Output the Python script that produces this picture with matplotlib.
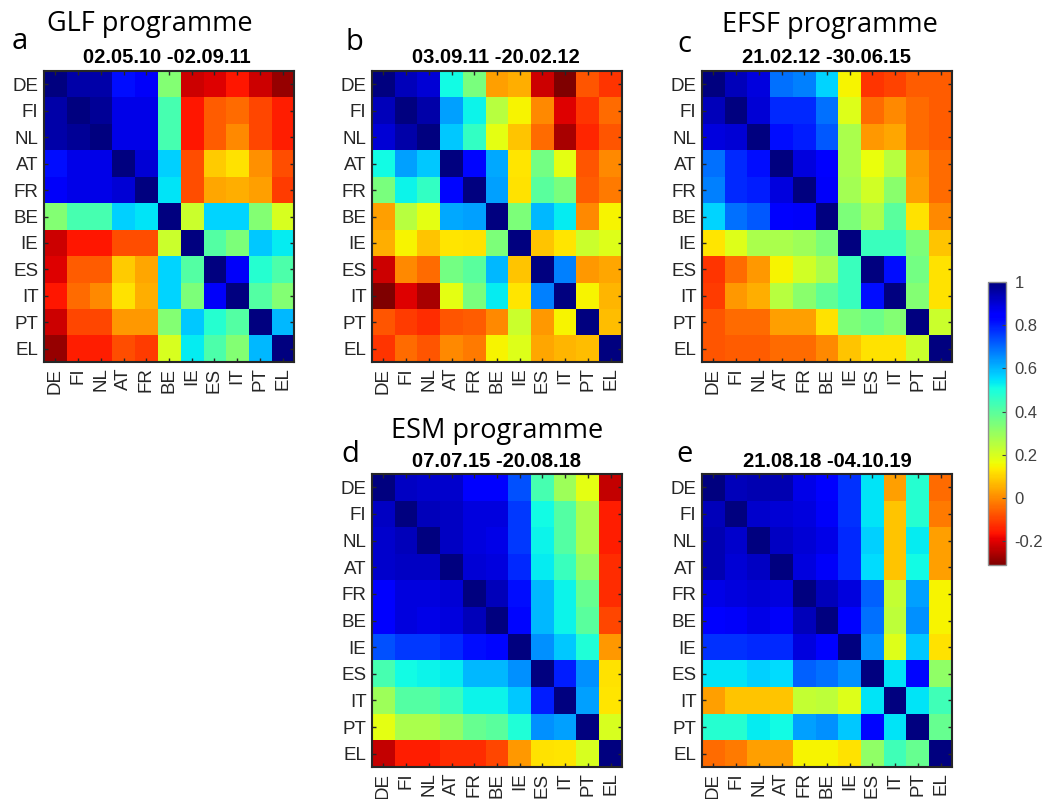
import numpy as np
import matplotlib.pyplot as plt

countries = ['DE', 'FI', 'NL', 'AT', 'FR', 'BE', 'IE', 'ES', 'IT', 'PT', 'EL']

# GLF programme, 02.05.10 - 02.09.11
corr_a = [
    [1.00, 0.95, 0.95, 0.82, 0.86, 0.33, -0.22, -0.20, -0.16, -0.22, -0.28],
    [0.95, 1.00, 0.97, 0.88, 0.88, 0.43, -0.16, -0.06, -0.04, -0.09, -0.15],
    [0.95, 0.97, 1.00, 0.88, 0.88, 0.43, -0.16, -0.06, 0.00, -0.09, -0.15],
    [0.82, 0.88, 0.88, 1.00, 0.90, 0.57, -0.08, 0.09, 0.12, 0.01, -0.08],
    [0.86, 0.88, 0.88, 0.90, 1.00, 0.54, -0.08, 0.04, 0.05, 0.03, -0.11],
    [0.33, 0.43, 0.43, 0.57, 0.54, 1.00, 0.22, 0.56, 0.56, 0.33, 0.20],
    [-0.22, -0.16, -0.16, -0.08, -0.08, 0.22, 1.00, 0.41, 0.34, 0.58, 0.53],
    [-0.20, -0.06, -0.06, 0.09, 0.04, 0.56, 0.41, 1.00, 0.86, 0.48, 0.42],
    [-0.16, -0.04, 0.00, 0.12, 0.05, 0.56, 0.34, 0.86, 1.00, 0.41, 0.33],
    [-0.22, -0.09, -0.09, 0.02, 0.02, 0.33, 0.58, 0.48, 0.41, 1.00, 0.60],
    [-0.28, -0.15, -0.15, -0.08, -0.11, 0.20, 0.53, 0.42, 0.33, 0.60, 1.00],
]

# 03.09.11 - 20.02.12
corr_b = [
    [1.00, 0.93, 0.90, 0.51, 0.35, 0.03, 0.05, -0.22, -0.31, -0.07, -0.12],
    [0.93, 1.00, 0.95, 0.63, 0.52, 0.25, 0.15, 0.00, -0.20, -0.12, -0.04],
    [0.90, 0.95, 1.00, 0.58, 0.46, 0.18, 0.08, -0.04, -0.26, -0.14, -0.07],
    [0.51, 0.63, 0.58, 1.00, 0.83, 0.62, 0.13, 0.36, 0.18, -0.07, 0.00],
    [0.35, 0.52, 0.46, 0.83, 1.00, 0.63, 0.12, 0.40, 0.35, -0.06, -0.02],
    [0.03, 0.25, 0.18, 0.62, 0.63, 1.00, 0.34, 0.60, 0.53, 0.00, 0.15],
    [0.05, 0.15, 0.08, 0.13, 0.12, 0.34, 1.00, 0.08, 0.13, 0.22, 0.19],
    [-0.22, 0.00, -0.04, 0.36, 0.40, 0.60, 0.08, 1.00, 0.67, 0.02, 0.04],
    [-0.31, -0.20, -0.26, 0.18, 0.35, 0.53, 0.13, 0.67, 1.00, 0.15, 0.06],
    [-0.07, -0.11, -0.13, -0.07, -0.06, 0.00, 0.22, 0.02, 0.15, 1.00, 0.07],
    [-0.12, -0.04, -0.07, 0.00, -0.02, 0.15, 0.19, 0.04, 0.06, 0.07, 1.00],
]

# EFSF programme, 21.02.12 - 30.06.15
corr_c = [
    [1.00, 0.93, 0.89, 0.69, 0.67, 0.56, 0.15, -0.12, -0.10, -0.06, -0.06],
    [0.93, 1.00, 0.90, 0.78, 0.78, 0.69, 0.19, -0.04, 0.00, -0.04, -0.06],
    [0.89, 0.90, 1.00, 0.82, 0.80, 0.72, 0.27, 0.02, 0.04, -0.04, -0.06],
    [0.69, 0.78, 0.82, 1.00, 0.89, 0.84, 0.27, 0.17, 0.25, 0.02, -0.04],
    [0.67, 0.78, 0.80, 0.89, 1.00, 0.86, 0.28, 0.21, 0.32, 0.03, -0.04],
    [0.56, 0.69, 0.72, 0.84, 0.86, 1.00, 0.34, 0.27, 0.40, 0.12, 0.00],
    [0.13, 0.19, 0.27, 0.27, 0.29, 0.34, 1.00, 0.45, 0.45, 0.34, 0.08],
    [-0.12, -0.04, 0.02, 0.15, 0.21, 0.27, 0.45, 1.00, 0.82, 0.36, 0.12],
    [-0.11, 0.02, 0.05, 0.25, 0.32, 0.39, 0.45, 0.82, 1.00, 0.33, 0.12],
    [-0.07, -0.04, -0.04, 0.03, 0.03, 0.12, 0.34, 0.37, 0.33, 1.00, 0.22],
    [-0.07, -0.06, -0.06, -0.04, -0.04, 0.00, 0.08, 0.12, 0.12, 0.22, 1.00],
]

# ESM programme, 07.07.15 - 20.08.18
corr_d = [
    [1.00, 0.92, 0.91, 0.91, 0.85, 0.85, 0.73, 0.43, 0.29, 0.18, -0.23],
    [0.92, 1.00, 0.93, 0.92, 0.89, 0.89, 0.76, 0.51, 0.41, 0.27, -0.15],
    [0.91, 0.93, 1.00, 0.92, 0.89, 0.88, 0.76, 0.52, 0.41, 0.27, -0.15],
    [0.91, 0.92, 0.92, 1.00, 0.90, 0.89, 0.78, 0.53, 0.45, 0.31, -0.13],
    [0.85, 0.89, 0.89, 0.90, 1.00, 0.93, 0.82, 0.60, 0.52, 0.38, -0.13],
    [0.85, 0.89, 0.88, 0.89, 0.93, 1.00, 0.83, 0.60, 0.52, 0.40, -0.09],
    [0.73, 0.76, 0.76, 0.78, 0.82, 0.83, 1.00, 0.65, 0.58, 0.49, 0.02],
    [0.43, 0.51, 0.52, 0.53, 0.60, 0.60, 0.65, 1.00, 0.80, 0.65, 0.12],
    [0.29, 0.41, 0.41, 0.45, 0.52, 0.52, 0.58, 0.80, 1.00, 0.63, 0.13],
    [0.18, 0.27, 0.27, 0.31, 0.38, 0.40, 0.49, 0.65, 0.63, 1.00, 0.20],
    [-0.23, -0.15, -0.15, -0.13, -0.13, -0.09, 0.02, 0.12, 0.13, 0.20, 1.00],
]

# 21.08.18 - 04.10.19
corr_e = [
    [1.00, 0.93, 0.94, 0.94, 0.88, 0.85, 0.77, 0.54, 0.03, 0.48, -0.04],
    [0.93, 1.00, 0.91, 0.90, 0.89, 0.86, 0.77, 0.54, 0.08, 0.48, -0.02],
    [0.94, 0.91, 1.00, 0.92, 0.90, 0.88, 0.78, 0.57, 0.08, 0.53, 0.03],
    [0.94, 0.90, 0.92, 1.00, 0.89, 0.86, 0.78, 0.55, 0.08, 0.51, 0.03],
    [0.88, 0.89, 0.90, 0.89, 1.00, 0.93, 0.89, 0.71, 0.23, 0.63, 0.15],
    [0.85, 0.86, 0.88, 0.86, 0.93, 1.00, 0.85, 0.69, 0.24, 0.65, 0.15],
    [0.77, 0.77, 0.78, 0.78, 0.89, 0.85, 1.00, 0.65, 0.19, 0.58, 0.12],
    [0.54, 0.54, 0.57, 0.55, 0.71, 0.69, 0.65, 1.00, 0.54, 0.83, 0.31],
    [0.03, 0.08, 0.08, 0.08, 0.23, 0.24, 0.19, 0.54, 1.00, 0.54, 0.44],
    [0.48, 0.48, 0.53, 0.51, 0.63, 0.65, 0.58, 0.83, 0.54, 1.00, 0.38],
    [-0.04, -0.02, 0.03, 0.03, 0.15, 0.15, 0.12, 0.31, 0.44, 0.38, 1.00],
]

W, H = 1043, 799
VMIN, VMAX = -0.31, 1.0
TXT = '#262626'

fig = plt.figure(figsize=(W / 100, H / 100), dpi=100)


def px_axes(left, top, right, bottom):
    return fig.add_axes([left / W, 1 - bottom / H, (right - left) / W, (bottom - top) / H])


def px_text(x, y, s, **kw):
    fig.text(x / W, 1 - y / H, s, **kw)


def draw_panel(box, data):
    ax = px_axes(*box)
    im = ax.imshow(np.array(data), cmap='jet_r', vmin=VMIN, vmax=VMAX,
                   aspect='auto', interpolation='nearest')
    n = len(countries)
    ax.set_xticks(range(n))
    ax.set_yticks(range(n))
    ax.set_xticklabels(countries, rotation=90, fontsize=13.5, color=TXT,
                       family='Liberation Sans')
    ax.set_yticklabels(countries, fontsize=13.5, color=TXT, family='Liberation Sans')
    ax.tick_params(direction='in', top=True, right=True, length=3, width=1,
                   color=TXT, pad=4)
    for s in ax.spines.values():
        s.set_color(TXT)
        s.set_linewidth(1.5)
    return im


panels = [
    ((44, 71, 294, 362), corr_a),
    ((372, 71, 622, 362), corr_b),
    ((702, 71, 952, 362), corr_c),
    ((372, 474, 622, 767), corr_d),
    ((702, 474, 952, 767), corr_e),
]
for box, data in panels:
    im = draw_panel(box, data)

# programme names, dates and panel letters
big = dict(family='Open Sans', fontsize=19.5, color='black')
date = dict(family='Liberation Sans', fontsize=14.5, fontweight='bold', color='black',
            ha='center')
letter = dict(family='Open Sans', fontsize=21, color='black')

px_text(150, 31, 'GLF programme', ha='center', **big)
px_text(830, 32, 'EFSF programme', ha='center', **big)
px_text(497, 438, 'ESM programme', ha='center', **big)

px_text(167, 63, '02.05.10 -02.09.11', **date)
px_text(496, 63, '03.09.11 -20.02.12', **date)
px_text(826, 63, '21.02.12 -30.06.15', **date)
px_text(497, 467, '07.07.15 -20.08.18', **date)
px_text(827, 467, '21.08.18 -04.10.19', **date)

px_text(12, 49, 'a', **letter)
px_text(346, 50, 'b', **letter)
px_text(677, 52, 'c', **letter)
px_text(341, 462, 'd', **letter)
px_text(676, 462, 'e', **letter)

# colour bar
cax = px_axes(988, 282, 1006, 565)
cb = fig.colorbar(im, cax=cax, ticks=[-0.2, 0, 0.2, 0.4, 0.6, 0.8, 1])
cb.ax.set_yticklabels(['-0.2', '0', '0.2', '0.4', '0.6', '0.8', '1'])
cb.ax.tick_params(direction='in', length=3, width=0.8, labelsize=12,
                  labelcolor='#404040', color='#404040', pad=6)
for t in cb.ax.get_yticklabels():
    t.set_family('Liberation Sans')
cb.outline.set_edgecolor('#909090')
cb.outline.set_linewidth(1)

fig.savefig('out.png', dpi=100)
